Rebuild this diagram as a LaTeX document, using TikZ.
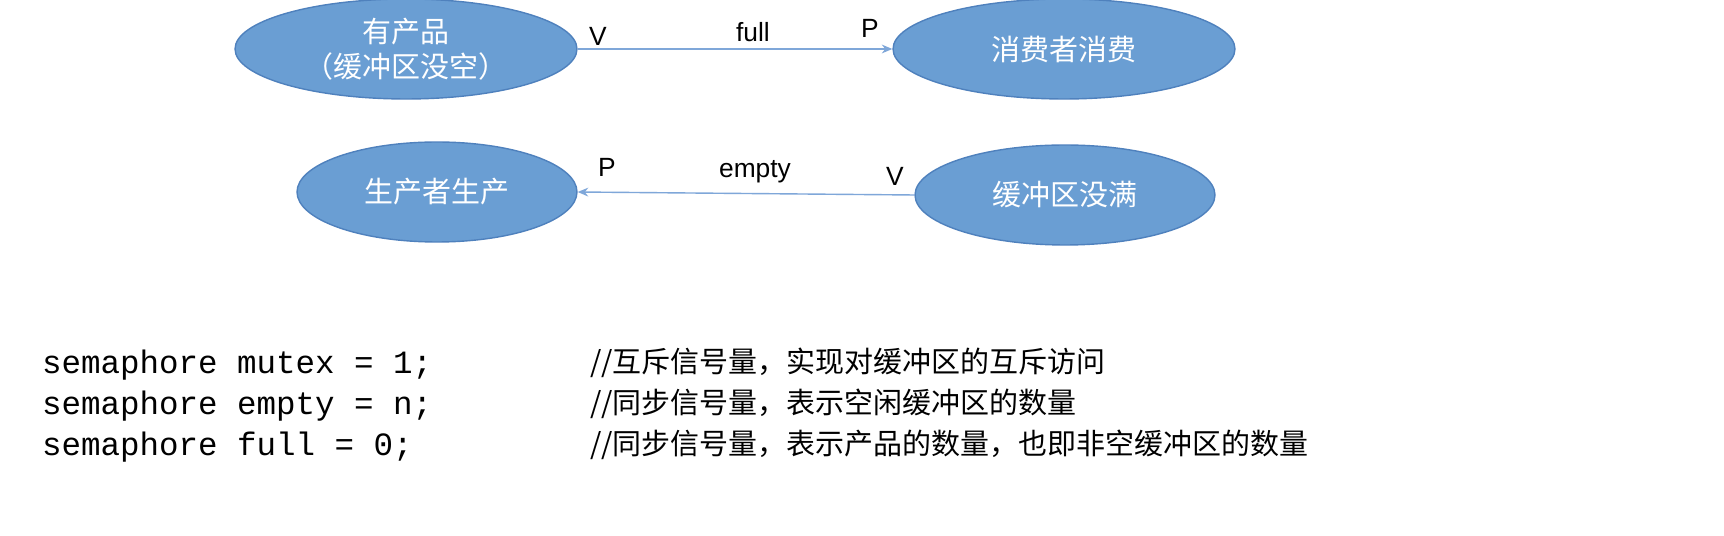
\documentclass[tikz,border=0pt]{standalone}
\usepackage{fontspec}
\setmainfont{Liberation Sans}
\setmonofont{Liberation Mono}
\newfontfamily\cjk{Noto Sans CJK SC}
\usetikzlibrary{arrows.meta,shapes.geometric}
\definecolor{ovalblue}{HTML}{6A9ED3}
\definecolor{ovaledge}{HTML}{4F81BD}
\definecolor{linkblue}{HTML}{7FA7D9}
\tikzset{
  state/.style={ellipse, fill=ovalblue, draw=ovaledge, line width=0.8pt,
    text=white, font=\cjk\fontsize{16.5}{20}\selectfont, align=center, inner sep=0pt},
  link/.style={draw=linkblue, line width=0.8pt, -{Stealth[length=6pt,width=5pt]}},
  pv/.style={font=\fontsize{15}{18}\selectfont},
  code/.style={anchor=west, font=\ttfamily\fontsize{18.5}{22}\selectfont},
  note/.style={anchor=west, font=\cjk\fontsize{16.5}{20}\selectfont}
}
\begin{document}
\begin{tikzpicture}[x=0.02cm,y=-0.02cm]
  \useasboundingbox[fill=white] (0,0) rectangle (1724,536);
  % top pair
  \node[state, minimum width=6.84cm, minimum height=2cm] (full) at (406,49) {有产品\\（缓冲区没空）};
  \node[state, minimum width=6.84cm, minimum height=2cm] (cons) at (1064,49) {消费者消费};
  % bottom pair
  \node[state, minimum width=5.6cm, minimum height=2cm] (prod) at (437,192) {生产者生产};
  \node[state, minimum width=6cm, minimum height=2cm] (empty) at (1065,195) {缓冲区没满};

  \draw[link] (full.east) -- (cons.west);
  \draw[link] (empty.west) -- (prod.east);

  \node[pv] at (598,36) {V};
  \node[pv] at (753,32) {full};
  \node[pv] at (870,28) {P};
  \node[pv] at (607,167) {P};
  \node[pv] at (755,172) {empty};
  \node[pv] at (895,176) {V};

  % semaphores
  \node[code] (s1) at (36,365) {semaphore mutex = 1;};
  \node[code] (s2) at (36,406) {semaphore empty = n;};
  \node[code] (s3) at (36,447) {semaphore full = 0;};
  \node[note] (n1) at (584,363) {//互斥信号量，实现对缓冲区的互斥访问};
  \node[note] (n2) at (584,404) {//同步信号量，表示空闲缓冲区的数量};
  \node[note] (n3) at (584,445) {//同步信号量，表示产品的数量，也即非空缓冲区的数量};
\end{tikzpicture}
\end{document}
